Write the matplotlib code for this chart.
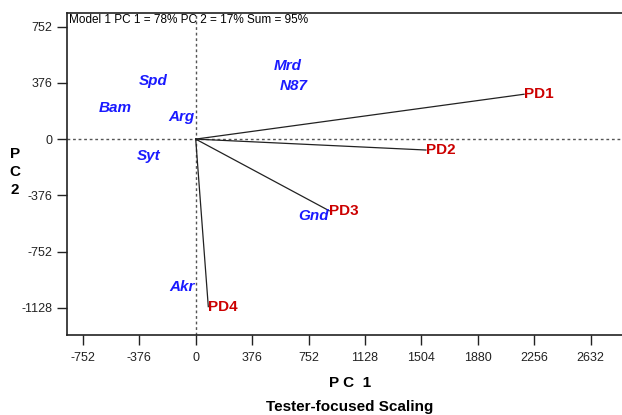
import matplotlib
matplotlib.use('Agg')
import matplotlib.pyplot as plt

plt.rcParams['font.family'] = ['Liberation Sans', 'DejaVu Sans']
plt.rcParams['axes.unicode_minus'] = False

# Genotypes (blue labels)
geno_names = ['Spd', 'Bam', 'Arg', 'Syt', 'Mrd', 'N87', 'Gnd', 'Akr']
geno_pc1 = [-283, -538, -93, -311, 611, 655, 783, -93]
geno_pc2 = [387, 209, 149, -111, 490, 356, -514, -987]

# Testers (red labels, vectors from origin)
tester_names = ['PD1', 'PD2', 'PD3', 'PD4']
tester_pc1 = [2189, 1535, 890, 84]
tester_pc2 = [300, -73, -479, -1120]

ticks = [-752, -376, 0, 376, 752, 1128, 1504, 1880, 2256, 2632]
yticks = [-1128, -752, -376, 0, 376, 752]

fig = plt.figure(figsize=(6.22, 4.15), dpi=100)
ax = fig.add_axes([67 / 622, 0.193, 1 - 67 / 622, 0.776])
ax.set_xlim(-858, 2842)
ax.set_ylim(-1309, 844)

ax.axhline(0, color='#555555', lw=1, ls=(0, (2, 2)))
ax.axvline(0, color='#555555', lw=1, ls=(0, (2, 2)))

for name, x, y in zip(tester_names, tester_pc1, tester_pc2):
    ax.plot([0, x], [0, y], color='#222222', lw=0.9)
    ax.text(x, y, name, color='#cc0000', fontsize=11, fontweight='bold',
            ha='left', va='center')

for name, x, y in zip(geno_names, geno_pc1, geno_pc2):
    ax.text(x, y, name, color='#1a1aff', fontsize=11, fontweight='bold',
            style='italic', ha='center', va='center')

ax.set_xticks(ticks)
ax.set_yticks(yticks)
ax.tick_params(direction='out', length=7, width=1, labelsize=9, colors='#222222')
ax.tick_params(axis='x', pad=5)
ax.spines['right'].set_visible(False)
for s in ['left', 'bottom', 'top']:
    ax.spines[s].set_linewidth(1.2)
    ax.spines[s].set_color('#222222')

ax.text(0.003, 0.997, 'Model 1 PC 1 = 78% PC 2 = 17% Sum = 95%',
        transform=ax.transAxes, fontsize=8.5, ha='left', va='top')

fig.text(350 / 622, 1 - 383 / 415, 'P C  1', fontsize=11, fontweight='bold',
         ha='center', va='center')
fig.text(350 / 622, 1 - 407 / 415, 'Tester-focused Scaling', fontsize=11,
         fontweight='bold', ha='center', va='center')
fig.text(15 / 622, 1 - 172 / 415, 'P\nC\n2', fontsize=11, fontweight='bold',
         ha='center', va='center', linespacing=1.35)

fig.savefig('out.png', dpi=100)
